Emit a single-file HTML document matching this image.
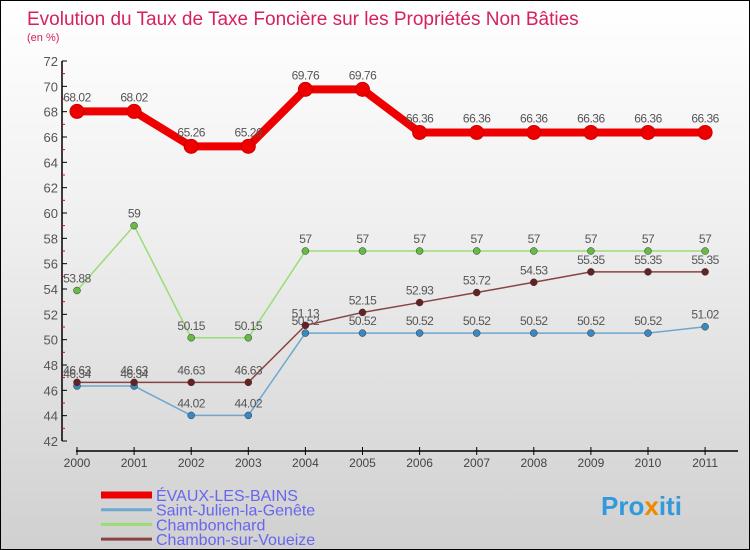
<!DOCTYPE html>
<html><head><meta charset="utf-8"><style>
body{margin:0;}
#c{width:748px;height:548px;border:1px solid #000;background:linear-gradient(#ffffff,#f0f0f0 40%,#d0d0d0);position:relative;overflow:hidden;font-family:"Liberation Sans",sans-serif;}
svg{position:absolute;left:0;top:0}
</style></head><body>
<div id="c">
<svg id="s" width="750" height="550">
<text x="26" y="24" font-size="19" fill="#d62060">Evolution du Taux de Taxe Foncière sur les Propriétés Non Bâties</text>
<text x="26" y="40" font-size="11" fill="#d62060">(en %)</text>
<text x="600" y="514" font-size="26" font-weight="bold" fill="#3399dd">Pro<tspan fill="#ee8800">x</tspan>iti</text>
</svg></div>
<script>
const years=[2000,2001,2002,2003,2004,2005,2006,2007,2008,2009,2010,2011];
const evaux=[68.02,68.02,65.26,65.26,69.76,69.76,66.36,66.36,66.36,66.36,66.36,66.36];
const stJulien=[46.34,46.34,44.02,44.02,50.52,50.52,50.52,50.52,50.52,50.52,50.52,51.02];
const chambonchard=[53.88,59,50.15,50.15,57,57,57,57,57,57,57,57];
const chambonSur=[46.63,46.63,46.63,46.63,51.13,52.15,52.93,53.72,54.53,55.35,55.35,55.35];
const yTicks=[42,44,46,48,50,52,54,56,58,60,62,64,66,68,70,72];
const names=["ÉVAUX-LES-BAINS","Saint-Julien-la-Genête","Chambonchard","Chambon-sur-Voueize"];
const NS="http://www.w3.org/2000/svg",s=document.getElementById('s');
const X=i=>76+i*57.1, Y=v=>440-(v-42)*(380/30);
function el(t,a,p){const e=document.createElementNS(NS,t);for(const k in a)e.setAttribute(k,a[k]);(p||s).appendChild(e);return e;}
let ax=el('line',{x1:61,y1:60,x2:61,y2:440,stroke:'#000','stroke-width':1.5});


const yMax=yTicks[yTicks.length-1];
yTicks.forEach(v=>{
 el('line',{x1:61,y1:Y(v),x2:66,y2:Y(v),stroke:'#000'});
 if(v<yMax) el('line',{x1:61,y1:Y(v+1),x2:64,y2:Y(v+1),stroke:'#e00'});
 const t=el('text',{x:57,y:Y(v)+5,'font-size':13,fill:'#555','text-anchor':'end'});t.textContent=v;
 
 
});
let xa=el('line',{x1:75,y1:450,x2:737,y2:450,stroke:'#000','stroke-width':1.5});


years.forEach((y,i)=>{
 el('line',{x1:X(i),y1:446,x2:X(i),y2:454,stroke:'#000'});
 const t=el('text',{x:X(i),y:466,'font-size':12,fill:'#444','text-anchor':'middle'});t.textContent=y;
 
 
});
const series=[[evaux,'#ee0000',8,7,'#cc0000'],[stJulien,'#6ea8d0',1.5,3.5,'#3a88c0'],[chambonchard,'#99dd77',1.5,3.5,'#66bb44'],[chambonSur,'#884444',1.5,3.5,'#662222']];
series.forEach((sr,k)=>{
 const [d,c,w,r,fc]=sr;
 const p=el('polyline',{points:d.map((v,i)=>X(i)+','+Y(v)).join(' '),fill:'none',stroke:c,'stroke-width':w,'stroke-linejoin':'round'});
 
 
 d.forEach((v,i)=>{
  const m=el('circle',{cx:X(i),cy:Y(v),r:r,fill:k==0?'#ee0000':fc,stroke:k==0?'#cc0000':'#333','stroke-width':k==0?1:0.5});
  
  
  const t=el('text',{x:X(i),y:Y(v)-(k==0?10:8),'font-size':12,fill:'#555','text-anchor':'middle','letter-spacing':'-0.5'});t.textContent=v;
  
  
 });
 const ly=494+k*14.7;
 const ll=el('line',{x1:100,y1:ly,x2:151,y2:ly,stroke:c,'stroke-width':k==0?7:3});
 
 
 const lt=el('text',{x:155,y:ly+6,'font-size':16,fill:'#6666ee'});lt.textContent=names[k];
 
 
});
</script>
</body></html>
